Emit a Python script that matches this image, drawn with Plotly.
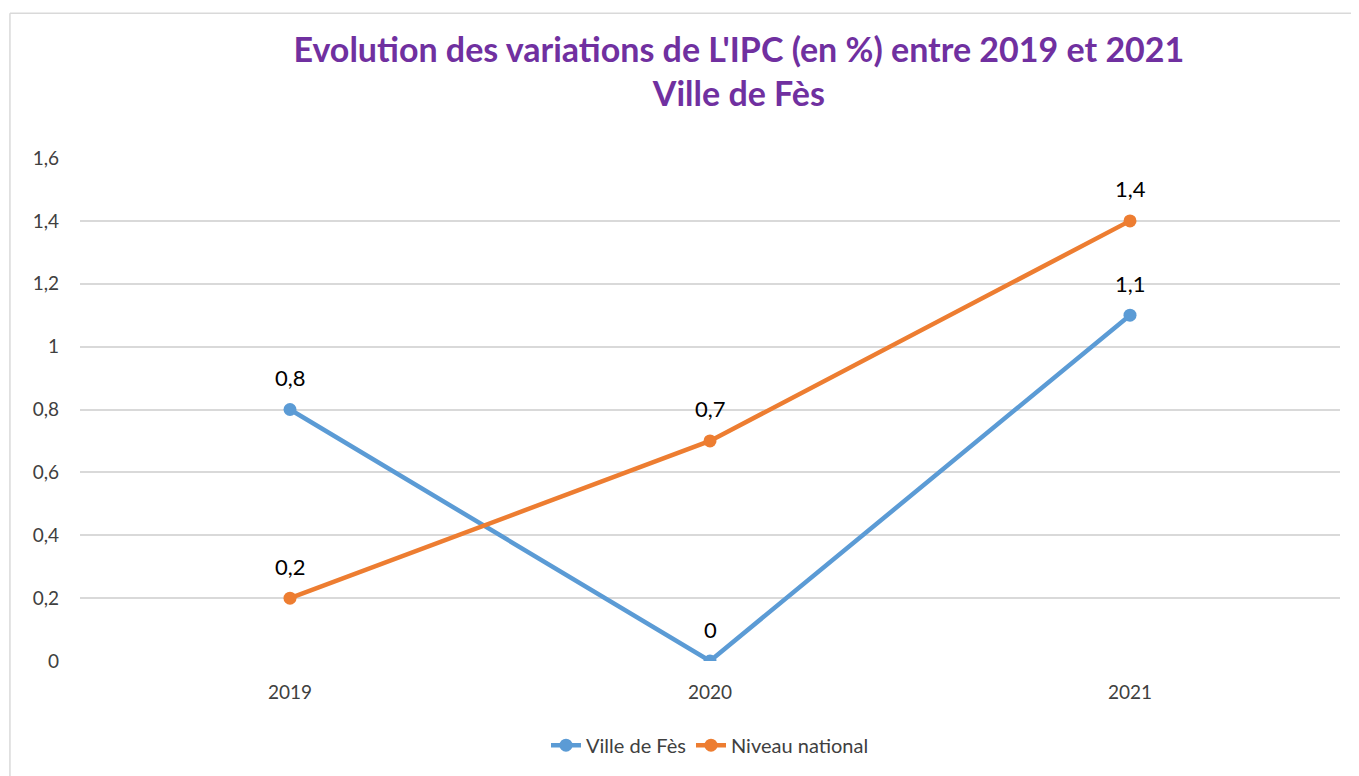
import plotly.graph_objects as go

years = ["2019", "2020", "2021"]
fes = [0.8, 0.0, 1.1]
national = [0.2, 0.7, 1.4]
y_ticks = [0, 0.2, 0.4, 0.6, 0.8, 1.0, 1.2, 1.4, 1.6]
y_tick_labels = ["0", "0,2", "0,4", "0,6", "0,8", "1", "1,2", "1,4", "1,6"]

def fmt(v):
    return ("%g" % v).replace(".", ",")

FONT = "Lato"
series = [
    ("Ville de Fès", fes, "#5B9BD5"),
    ("Niveau national", national, "#ED7D31"),
]

fig = go.Figure()
annotations = []
for name, vals, color in series:
    fig.add_trace(go.Scatter(
        x=years, y=vals, name=name, mode="lines+markers",
        line=dict(color=color, width=4.5), marker=dict(size=13, color=color),
    ))
    for i, yv in enumerate(vals):
        annotations.append(dict(
            x=i, y=yv, xref="x", yref="y", text=fmt(yv), showarrow=False,
            yshift=32, font=dict(family=FONT, size=22, color="#000000"),
        ))

fig.update_layout(
    width=1351, height=768,
    margin=dict(l=72, r=19, t=150, b=114),
    paper_bgcolor="white", plot_bgcolor="white",
    title=dict(
        text="Evolution des variations de L'IPC (en %) entre 2019 et 2021<br>Ville de Fès",
        x=0.541, xanchor="center", y=0.930, yanchor="middle",
        font=dict(family=FONT, size=34, color="#7030A0", weight="bold"),
    ),
    font=dict(family=FONT, color="#404040"),
    showlegend=True,
    legend=dict(orientation="h", x=0.5, xanchor="center", y=-0.165, yanchor="middle",
                font=dict(family=FONT, size=20, color="#404040")),
    xaxis=dict(type="category", range=[-0.5, 2.5], showgrid=False, showline=False,
               ticks="", tickfont=dict(size=19, color="#404040"), zeroline=False,
               ticklabelstandoff=18),
    yaxis=dict(range=[0, 1.6], tickvals=y_ticks, ticktext=y_tick_labels,
               showgrid=True, gridcolor="#D9D9D9", gridwidth=1.5, zeroline=False,
               showline=False, ticks="", ticklabelstandoff=20,
               tickfont=dict(size=19, color="#404040")),
    annotations=annotations,
    shapes=[
        dict(type="line", xref="paper", yref="paper", x0=-0.0556, x1=1.02, y0=1.2877, y1=1.2877,
             line=dict(color="#D9D9D9", width=1.5)),
        dict(type="line", xref="paper", yref="paper", x0=-0.0556, x1=-0.0556, y0=1.2877, y1=-0.3,
             line=dict(color="#D9D9D9", width=1.5)),
    ],
)
fig.write_html("out.html")
